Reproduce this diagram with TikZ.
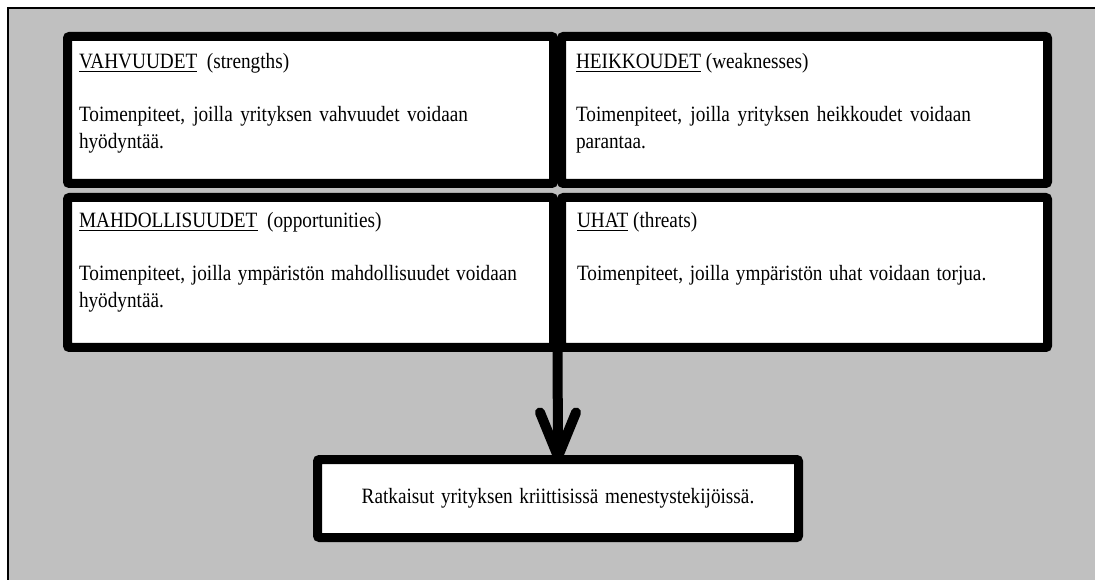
\documentclass[tikz,border=0pt]{standalone}
\usepackage{fontspec}
\setmainfont{Liberation Serif}[FakeStretch=0.88]
\usetikzlibrary{calc}
\definecolor{bggray}{HTML}{C0C0C0}
\newcommand{\wsp}{\hspace{5pt}}
\tikzset{
  swot/.style={draw=black, fill=white, line width=6.75pt, rounded corners=1.5pt,
    outer sep=0pt, inner sep=0pt, rectangle},
  txt/.style={inner sep=0pt, outer sep=0pt, anchor=base west,
    font=\fontsize{16.4}{19.8}\selectfont},
  flow/.style={line width=7.5pt, line cap=round, line join=round}
}
\begin{document}
\begin{tikzpicture}[x=0.75pt,y=-0.75pt]
\useasboundingbox (0,0) rectangle (1095,580);
\fill[white] (0,0) rectangle (1095,580);
\fill[bggray] (8,8) rectangle (1095,580);
\draw[line width=1.5pt] (8,580) -- (8,8) -- (1095,8);

% boxes
\node[swot, minimum width={486*0.75pt}, minimum height={147*0.75pt}] (S) at (310.5,110) {};
\node[swot, minimum width={486*0.75pt}, minimum height={147*0.75pt}] (W) at (804.5,110) {};
\node[swot, minimum width={486*0.75pt}, minimum height={150*0.75pt}] (O) at (310.5,272.5) {};
\node[swot, minimum width={486*0.75pt}, minimum height={150*0.75pt}] (T) at (804.5,272.5) {};

% texts
\node[txt] (St) at ($(S.north west)+(11.5,32.5)$) {\parbox[t]{291.75pt}{\underline{VAHVUUDET}\ \ (strengths)\par\vskip\baselineskip
Toimenpiteet, joilla yrityksen vahvuudet voidaan\linebreak hyödyntää.}};
\node[txt] (Wt) at ($(W.north west)+(14.5,32.5)$) {\parbox[t]{296.25pt}{\underline{HEIKKOUDET} (weaknesses)\par\vskip\baselineskip
Toimenpiteet, joilla yrityksen heikkoudet voidaan\linebreak parantaa.}};
\node[txt] (Ot) at ($(O.north west)+(11.5,30.5)$) {\parbox[t]{328.5pt}{\underline{MAHDOLLISUUDET}\ \ (opportunities)\par\vskip\baselineskip
Toimenpiteet, joilla ympäristön mahdollisuudet voidaan\linebreak hyödyntää.}};
\node[txt] (Tt) at ($(T.north west)+(15.5,30.5)$) {\parbox[t]{345pt}{\underline{UHAT} (threats)\par\vskip\baselineskip
Toimenpiteet,\wsp joilla\wsp ympäristön\wsp uhat\wsp voidaan\wsp torjua.}};

% result box
\node[swot, minimum width={481*0.75pt}, minimum height={78*0.75pt},
  font=\fontsize{16.4}{19.8}\selectfont] (R) at (558,498.5)
  {Ratkaisut\wsp yrityksen\wsp kriittisissä\wsp menestystekijöissä.};

% arrow
\coordinate (mid) at ($(O.south east)!0.5!(T.south west)$);
\draw[line width=7.5pt] ($(mid)+(0,-6)$) -- (R.north);
\draw[flow] ($(R.north)+(-18,-47)$) -- ($(R.north)+(0,-3)$) -- ($(R.north)+(18,-47)$);
\end{tikzpicture}
\end{document}
